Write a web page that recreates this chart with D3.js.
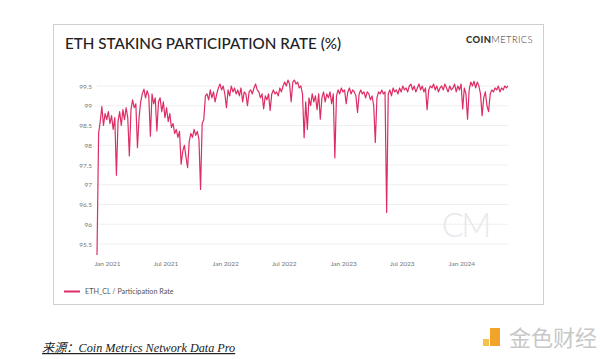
<!DOCTYPE html>
<html><head><meta charset="utf-8">
<script src="https://cdn.jsdelivr.net/npm/d3@7"></script>
<style>html,body{margin:0;padding:0;background:#fff;}svg{display:block;}</style>
</head><body>
<svg id="c" width="600" height="359"></svg>
<script>
// Data: ETH staking participation rate, one reading every 5 days from 2020-12-01
const startDate = "2020-12-01";
const stepDays = 5;
const rateValues = [
95.22,98.30,98.60,98.98,98.50,98.80,98.65,98.85,98.55,98.75,98.40,98.70,97.24,98.60,98.85,98.50,98.90,98.65,98.95,98.70,
97.73,98.90,99.15,98.95,99.05,97.94,98.70,99.10,99.30,99.42,99.20,99.38,99.25,98.23,99.30,99.05,99.20,98.36,99.10,99.20,
98.85,99.10,98.70,98.95,98.60,98.80,98.45,98.55,98.30,98.40,98.20,98.35,97.52,97.85,98.00,97.70,97.43,98.10,98.30,98.20,
98.40,98.25,98.35,98.15,96.88,98.55,98.65,99.25,99.30,99.15,99.40,99.20,99.35,99.10,99.30,99.45,99.55,99.40,99.50,99.30,
98.95,99.40,99.25,99.50,99.35,99.45,99.30,99.40,99.25,99.45,99.10,99.35,99.30,99.00,99.35,99.40,99.30,99.45,99.55,99.40,
99.35,99.20,99.30,98.92,99.25,99.15,99.30,98.88,99.30,99.40,99.30,99.35,99.25,99.45,99.35,99.50,99.60,99.50,99.65,99.55,
99.10,99.60,99.65,99.55,99.60,99.45,99.50,99.30,98.19,99.10,98.40,99.20,99.00,99.30,99.10,99.25,98.90,99.30,98.66,99.20,
99.35,99.10,99.30,99.20,99.35,99.05,99.30,97.68,99.25,99.40,99.30,99.45,99.35,99.40,99.05,99.35,99.45,99.30,99.40,99.35,
99.25,98.83,99.30,99.40,99.30,99.35,99.20,99.35,99.30,99.15,99.25,99.00,98.07,99.20,99.35,99.30,99.40,99.30,99.35,96.30,
99.30,99.40,99.25,99.45,99.35,99.40,99.30,99.45,99.35,99.50,99.40,99.45,99.35,99.50,99.55,99.40,99.50,99.35,99.45,99.55,
99.40,99.50,99.35,99.45,98.90,99.40,99.50,99.45,99.55,99.40,99.50,99.35,99.45,99.50,99.40,99.55,99.45,99.35,99.50,99.40,
99.45,99.55,99.35,99.50,99.40,99.55,98.92,99.45,99.30,98.66,99.40,99.60,99.50,99.62,99.45,99.60,99.50,99.30,98.75,99.20,
99.35,99.00,98.85,99.30,99.40,99.35,99.45,99.40,99.50,99.35,99.45,99.40,99.50,99.45,99.50
];
const yTicks = [95.5,96,96.5,97,97.5,98,98.5,99,99.5];
const xTickDates = ["2021-01-01","2021-07-01","2022-01-01","2022-07-01","2023-01-01","2023-07-01","2024-01-01"];
const seriesName = "ETH_CL / Participation Rate";
const titleText = "ETH STAKING PARTICIPATION RATE (%)";
const captionText = "来源：Coin Metrics Network Data Pro";

const parse = d3.timeParse("%Y-%m-%d");
const t0 = parse(startDate);
const data = rateValues.map((v,i)=>({date:d3.timeDay.offset(t0, i*stepDays), value:v}));

const svg = d3.select("#c");
const LINE = "#dc2d64";

// panel
svg.append("rect").attr("x",53.5).attr("y",24.5).attr("width",490).attr("height",280)
  .attr("fill","#fff").attr("stroke","#cfcfcf").attr("stroke-width",1);

svg.append("text").attr("x",65).attr("y",48.5).text(titleText)
  .attr("font-family","Lato").attr("font-size",15.2).attr("font-weight",500).attr("fill","#222");

const logo = svg.append("text").attr("x",533).attr("y",43).attr("text-anchor","end")
  .attr("font-family","Lato").attr("font-size",9.4).attr("letter-spacing",0.4).attr("fill","#333");
logo.append("tspan").attr("font-weight",900).text("COIN");
logo.append("tspan").attr("font-weight",300).text("METRICS");

// scales
const x = d3.scaleTime().domain(d3.extent(data,d=>d.date)).range([97,508]);
const y = d3.scaleLinear().domain([95.5,99.5]).range([244,86]);

// gridlines
svg.append("g").selectAll("line").data(yTicks).join("line")
  .attr("x1",97).attr("x2",508).attr("y1",d=>y(d)).attr("y2",d=>y(d))
  .attr("stroke","#efefef").attr("stroke-width",1);

// watermark
svg.append("text").attr("x",465).attr("y",237).attr("text-anchor","middle")
  .attr("font-family","Lato").attr("font-weight",300).attr("font-size",33)
  .attr("fill","#e8e8ec").attr("letter-spacing",-3).text("CM");

// y axis
const yAxis = d3.axisLeft(y).tickValues(yTicks).tickSize(0).tickPadding(0).tickFormat(d3.format("~g"));
const gy = svg.append("g").attr("transform","translate(92,0)").call(yAxis);
gy.select(".domain").remove();
gy.selectAll("text").attr("font-family","Lato").attr("font-size",6.5).attr("fill","#777");

// x axis
const xAxis = d3.axisBottom(x).tickValues(xTickDates.map(parse)).tickSize(0).tickPadding(0)
  .tickFormat(d3.timeFormat("%b %Y"));
const gx = svg.append("g").attr("transform","translate(0,261)").call(xAxis);
gx.select(".domain").remove();
gx.selectAll("text").attr("font-family","Lato").attr("font-size",6.5).attr("fill","#777");

// line
const line = d3.line().x(d=>x(d.date)).y(d=>y(d.value));
svg.append("path").datum(data).attr("d",line).attr("fill","none")
  .attr("stroke",LINE).attr("stroke-width",1.2).attr("stroke-linejoin","round");

// legend
svg.append("line").attr("x1",64).attr("x2",80).attr("y1",291.5).attr("y2",291.5)
  .attr("stroke",LINE).attr("stroke-width",2);
svg.append("text").attr("x",85).attr("y",294).text(seriesName)
  .attr("font-family","Lato").attr("font-size",7.2).attr("fill","#555");

// caption
svg.append("text").attr("x",42).attr("y",352).text(captionText)
  .attr("font-family","Liberation Serif, Noto Sans CJK SC").attr("font-style","italic")
  .attr("font-size",12.2).attr("fill","#222").attr("text-decoration","underline");

// bottom-right brand mark
const bx = 483, by = 328;
svg.append("rect").attr("x",bx+7).attr("y",by).attr("width",10).attr("height",18).attr("fill","#f2a32a");
svg.append("rect").attr("x",bx).attr("y",by+11).attr("width",6).attr("height",7).attr("fill","#f7c04a");
svg.append("text").attr("x",597).attr("y",by+18).attr("text-anchor","end")
  .attr("font-family","Noto Sans CJK SC").attr("font-size",22).attr("fill","#c8c8c8").text("金色财经");
</script>
</body></html>
